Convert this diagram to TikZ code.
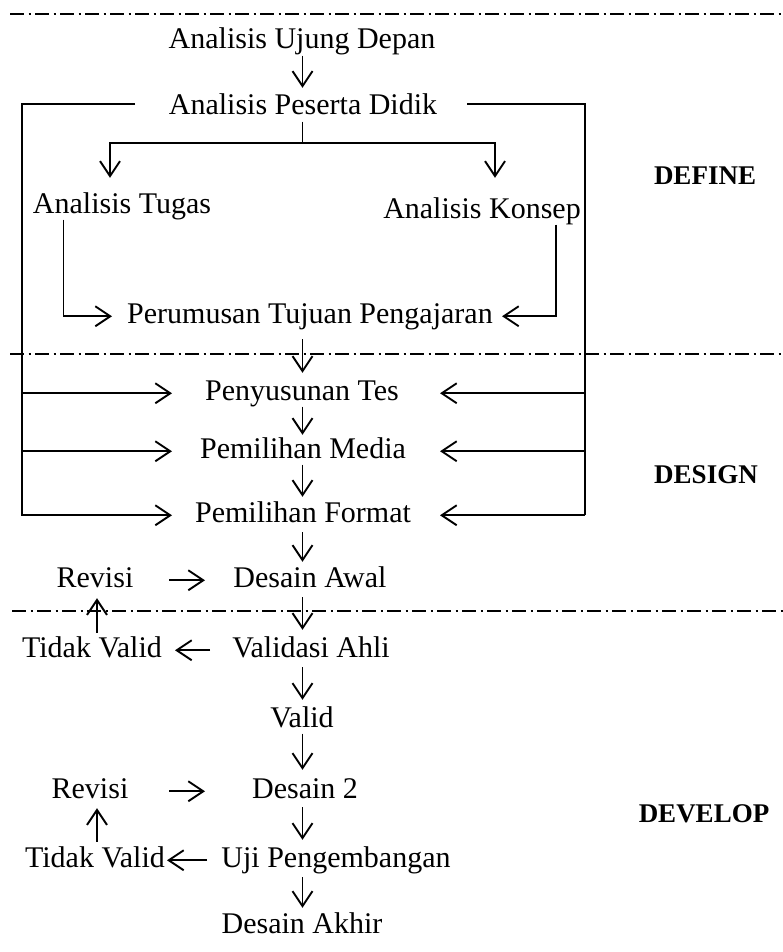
\documentclass[tikz,border=0pt]{standalone}
\usepackage{fontspec}
\setmainfont{Liberation Serif}
\usetikzlibrary{arrows.meta}
\begin{document}
\begin{tikzpicture}[x=1pt,y=-1pt,
  lbl/.style={font=\fontsize{30}{36}\selectfont, inner sep=0pt, anchor=base, text height=20pt, text depth=6.5pt},
  phase/.style={font=\fontsize{27}{32}\selectfont\bfseries, inner sep=0pt, anchor=base},
  arr/.style={line width=1.9pt, -{Straight Barb[length=15pt,width=20pt,line width=1.9pt]}},
  ln/.style={line width=1.9pt},
  sep/.style={line width=1.7pt, dash pattern=on 14pt off 4.5pt on 2pt off 4.5pt}]
\useasboundingbox (0,0) rectangle (783,952);

% columns
\coordinate (sp) at (302.5,0);
\coordinate (xL) at (22,0);
\coordinate (xR) at (585,0);
\coordinate (tipL) at (172,0);
\coordinate (tipR) at (440,0);

% nodes
\node[lbl] (aud) at (302,49) {Analisis Ujung Depan};
\node[lbl] (apd) at (303,115) {Analisis Peserta Didik};
\node[lbl] (tug) at (122,213) {Analisis Tugas};
\node[lbl] (kon) at (482,218) {Analisis Konsep};
\node[lbl] (per) at (310,323) {Perumusan Tujuan Pengajaran};
\node[lbl] (pts) at (302,400) {Penyusunan Tes};
\node[lbl] (pmd) at (303,458) {Pemilihan Media};
\node[lbl] (pfm) at (303,522) {Pemilihan Format};
\node[lbl] (rv1) at (95,587) {Revisi};
\node[lbl] (dsa) at (310,587) {Desain Awal};
\node[lbl] (tv1) at (92,657) {Tidak Valid};
\node[lbl] (vah) at (311,657) {Validasi Ahli};
\node[lbl] (val) at (302,727) {Valid};
\node[lbl] (rv2) at (90,798) {Revisi};
\node[lbl] (ds2) at (305,798) {Desain 2};
\node[lbl] (tv2) at (95,867) {Tidak Valid};
\node[lbl] (uji) at (336,867) {Uji Pengembangan};
\node[lbl] (dak) at (302,933) {Desain Akhir};
\node[phase] (def) at (705,185) {DEFINE};
\node[phase] (des) at (706,483) {DESIGN};
\node[phase] (dev) at (704,822) {DEVELOP};

% separators
\coordinate (s1a) at (10,14);  \coordinate (s1b) at (783,14);
\coordinate (s2a) at (10,354); \coordinate (s2b) at (783,354);
\coordinate (s3a) at (12,611); \coordinate (s3b) at (783,611);
\draw[sep] (s1a) -- (s1b);
\draw[sep] (s2a) -- (s2b);
\draw[sep] (s3a) -- (s3b);

% spine arrows
\draw[arr, shorten >=7pt] (aud.south -| sp) -- (apd.north -| sp);
\draw[arr, shorten <=9.5pt, shorten >=7pt] (per.south -| sp) -- (pts.north -| sp);
\draw[arr, shorten >=3pt] (pts.south -| sp) -- (pmd.north -| sp);
\draw[arr, shorten >=5pt] (pmd.south -| sp) -- (pfm.north -| sp);
\draw[arr, shorten <=3.5pt, shorten >=5pt] (pfm.south -| sp) -- (dsa.north -| sp);
\draw[arr, shorten <=3.5pt, shorten >=7pt] (dsa.south -| sp) -- (vah.north -| sp);
\draw[arr, shorten <=3.5pt, shorten >=7pt] (vah.south -| sp) -- (val.north -| sp);
\draw[arr, shorten >=8pt] (val.south -| sp) -- (ds2.north -| sp);
\draw[arr, shorten <=2.5pt, shorten >=7pt] (ds2.south -| sp) -- (uji.north -| sp);
\draw[arr, shorten <=3.5pt, shorten >=5pt] (uji.south -| sp) -- (dak.north -| sp);

% define branch
\coordinate (jn) at (302.5,143);
\coordinate (jl) at (110,143);
\coordinate (jr) at (495,143);
\draw[ln] (apd.south -| sp) -- (jn);
\draw[arr, shorten >=15pt] (jn) -| (tug.north -| jl);
\draw[arr, shorten >=20pt] (jn) -| (kon.north -| jr);

\coordinate (tx) at (63.5,0);
\coordinate (kx) at (556,0);
\coordinate (tipPL) at (112,0);
\coordinate (tipPR) at (502,0);
\draw[arr] (tug.south -| tx) |- (per.west -| tipPL);
\draw[arr] (kon.south -| kx) |- (per.east -| tipPR);

% frame
\coordinate (fl) at (135,104);
\coordinate (lt) at (22,104);
\coordinate (fr) at (467,104);
\coordinate (rt) at (585,104);
\draw[arr] (fl) -- (lt) -- (pfm.west -| xL) -- (pfm.west -| tipL);
\draw[ln] (fr) -- (rt) -- (pfm.east -| xR);
\draw[arr] (pfm.east -| xR) -- (pfm.east -| tipR);
\draw[arr] (pts.west -| xL) -- (pts.west -| tipL);
\draw[arr] (pmd.west -| xL) -- (pmd.west -| tipL);
\draw[arr] (pts.east -| xR) -- (pts.east -| tipR);
\draw[arr] (pmd.east -| xR) -- (pmd.east -| tipR);

% revision loops
\coordinate (ra) at (169,0);
\coordinate (rb) at (205,0);
\coordinate (ta) at (210,0);
\coordinate (tb) at (175,0);
\coordinate (tc) at (207,0);
\coordinate (td) at (167,0);
\coordinate (ux) at (97,0);
\draw[arr] (rv1.east -| ra) -- (rv1.east -| rb);
\draw[arr] (rv2.east -| ra) -- (rv2.east -| rb);
\draw[arr] (vah.west -| ta) -- (vah.west -| tb);
\draw[arr] (uji.west -| tc) -- (uji.west -| td);
\draw[arr, shorten <=4pt, shorten >=4.5pt] (tv1.north -| ux) -- (rv1.south -| ux);
\draw[arr, shorten <=5pt, shorten >=3.5pt] (tv2.north -| ux) -- (rv2.south -| ux);
\end{tikzpicture}
\end{document}
